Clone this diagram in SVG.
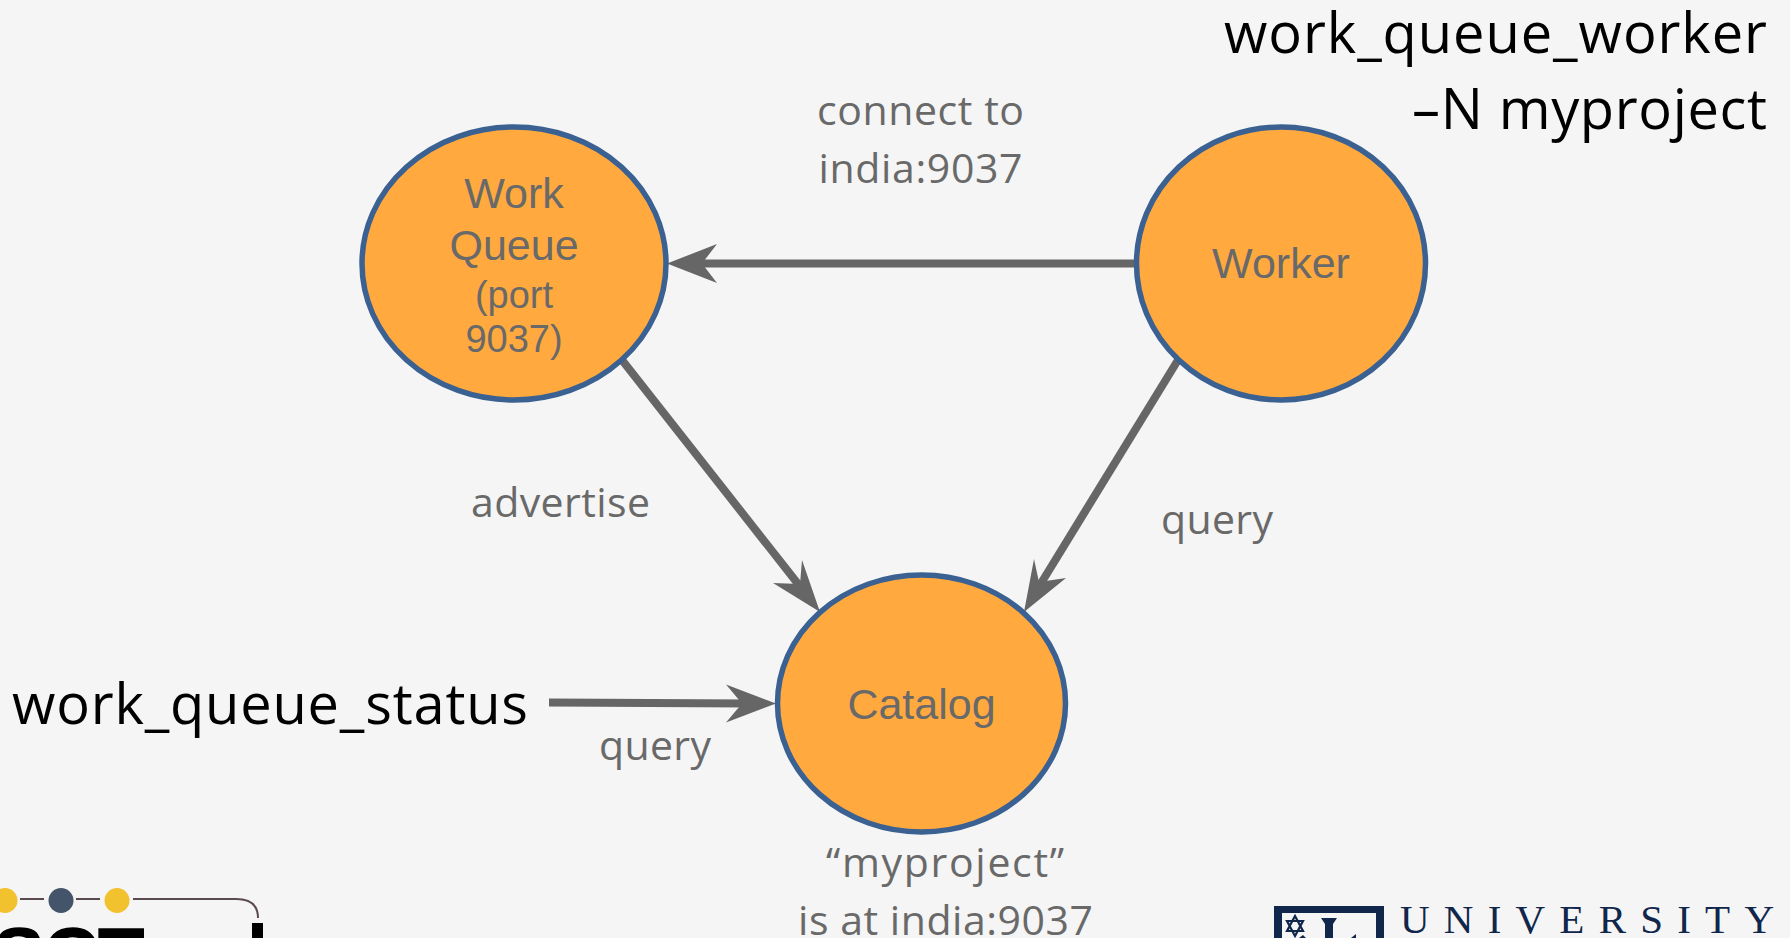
<svg xmlns="http://www.w3.org/2000/svg" width="1790" height="938" viewBox="0 0 1790 938">
<style>
.node{fill:#ffa93f;stroke:#3a6191;stroke-width:5.5}
.nt{font-family:"Liberation Sans",Arial,sans-serif;fill:#696969;text-anchor:middle}
.lb{font-family:"Open Sans",sans-serif;font-size:41px;fill:#696969;text-anchor:middle}
.cmd{font-family:"Open Sans",sans-serif;font-size:56px;fill:#000}
.edge{stroke:#666;stroke-width:8;fill:none}
.head{fill:#666}
</style>
<rect width="1790" height="938" fill="#f5f5f5"/>
<g id="connectors">
<line class="edge" x1="1136" y1="263.5" x2="695" y2="263.5"/>
<polygon class="head" points="667,263.5 717,244 702,263.5 717,283"/>
<line class="edge" x1="622" y1="360" x2="802" y2="589"/>
<polygon class="head" points="820,612 773,583 800,584 802,560"/>
<line class="edge" x1="1178" y1="360" x2="1040" y2="585"/>
<polygon class="head" points="1024,612 1034,559 1039,582 1066,578"/>
<line class="edge" x1="549" y1="702.5" x2="750" y2="703.5"/>
<polygon class="head" points="776,703.5 726,684.5 742,703.5 726,722.5"/>
</g>
<g id="work-queue">
<ellipse class="node" cx="514" cy="263.5" rx="152" ry="136.5"/>
<text class="nt" x="514" y="208" font-size="43">Work</text>
<text class="nt" x="514" y="260" font-size="43">Queue</text>
<text class="nt" x="514" y="308" font-size="38">(port</text>
<text class="nt" x="514" y="352" font-size="38">9037)</text>
</g>
<g id="worker">
<ellipse class="node" cx="1281" cy="263.5" rx="144.5" ry="136.5"/>
<text class="nt" x="1281" y="278" font-size="43">Worker</text>
</g>
<g id="catalog">
<ellipse class="node" cx="921.5" cy="703.5" rx="144" ry="128.5"/>
<text class="nt" x="921.5" y="719" font-size="43">Catalog</text>
</g>
<g id="labels">
<text class="lb" x="920.5" y="125" textLength="207">connect to</text>
<text class="lb" x="920.5" y="183" textLength="204">india:9037</text>
<text class="lb" x="560.5" y="517" textLength="179">advertise</text>
<text class="lb" x="1217" y="534" textLength="112">query</text>
<text class="lb" x="655" y="760" textLength="112">query</text>
<text class="lb" x="945" y="877" textLength="238">“myproject”</text>
<text class="lb" x="945.5" y="935" textLength="295">is at india:9037</text>
<text class="cmd" x="1224" y="53" textLength="543">work_queue_worker</text>
<text class="cmd" x="1412" y="129" textLength="355">–N myproject</text>
<text class="cmd" x="12" y="724" textLength="516">work_queue_status</text>
</g>
<g id="logo-left">
<circle cx="5" cy="900.5" r="12.5" fill="#f2c12e"/>
<circle cx="61" cy="900.5" r="12.5" fill="#44546a"/>
<circle cx="117" cy="900.5" r="12.5" fill="#f2c12e"/>
<path d="M20 899H44M76 899H100M133 899H236Q258 899 258 918" fill="none" stroke="#5a4a50" stroke-width="2"/>
<text x="-6" y="980" font-family="Liberation Sans,sans-serif" font-weight="700" font-size="75" stroke="#000" stroke-width="1.5" fill="#000">SCT</text>
<rect x="252" y="923" width="11" height="15" fill="#000"/>
</g>
<g id="logo-right">
<path d="M1274 938V906H1384V938H1376V913H1282V938Z" fill="#10264a"/>
<text x="1400" y="933" font-family="Liberation Serif,serif" font-size="41" fill="#10264a" textLength="374">UNIVERSITY</text>
<path d="M1295 916L1303 931H1287ZM1295 936L1287 921H1303Z" fill="none" stroke="#10264a" stroke-width="2.2"/>
<path d="M1321 918H1337L1333 924V938H1325V924Z" fill="#10264a"/>
<path d="M1299 938L1303 935L1306 938ZM1351 938L1356 934V938Z" fill="#10264a"/>
</g>
</svg>
